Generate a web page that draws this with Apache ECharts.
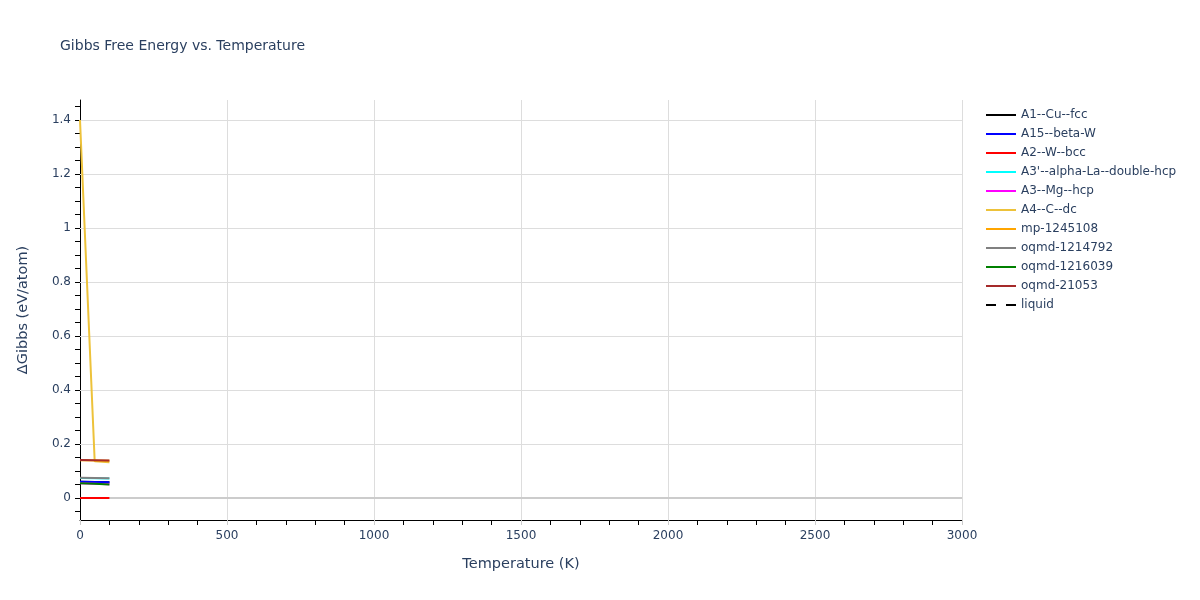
<!DOCTYPE html>
<html>
<head>
<meta charset="utf-8">
<script src="https://cdn.jsdelivr.net/npm/echarts@6/dist/echarts.min.js"></script>
<style>html,body{margin:0;padding:0;background:#fff}#c{width:1200px;height:600px}</style>
</head>
<body>
<div id="c"></div>
<script>
const temps = [0, 50, 100];
const seriesNames = ['A1--Cu--fcc','A15--beta-W','A2--W--bcc',"A3'--alpha-La--double-hcp",'A3--Mg--hcp','A4--C--dc','mp-1245108','oqmd-1214792','oqmd-1216039','oqmd-21053','liquid'];
const seriesColors = ['#000000','#0000FF','#FF0000','#00FFFF','#FF00FF','#EDC23A','#FFA500','#808080','#008000','#A52A2A','#000000'];
const A1_Cu_fcc = [0.060, 0.059, 0.058];
const A15_beta_W = [0.060, 0.059, 0.058];
const A2_W_bcc = [0.0, 0.0, 0.0];
const A3p_alpha_La = [0.074, 0.073, 0.072];
const A3_Mg_hcp = [0.055, 0.053, 0.051];
const A4_C_dc = [1.40, 0.136, 0.132];
const mp_1245108 = [0.140, 0.139, 0.138];
const oqmd_1214792 = [0.075, 0.074, 0.073];
const oqmd_1216039 = [0.055, 0.053, 0.050];
const oqmd_21053 = [0.141, 0.140, 0.139];
const liquid = [];
const yLabelTicks = [0, 0.2, 0.4, 0.6, 0.8, 1, 1.2, 1.4];
const yMinorTicks = [-0.05,0,0.05,0.1,0.15,0.2,0.25,0.3,0.35,0.4,0.45,0.5,0.55,0.6,0.65,0.7,0.75,0.8,0.85,0.9,0.95,1,1.05,1.1,1.15,1.2,1.25,1.3,1.35,1.4,1.45];
const yGridLines = [0.2, 0.4, 0.6, 0.8, 1, 1.2, 1.4];
const allValues = [A1_Cu_fcc, A15_beta_W, A2_W_bcc, A3p_alpha_La, A3_Mg_hcp, A4_C_dc, mp_1245108, oqmd_1214792, oqmd_1216039, oqmd_21053, liquid];

const font = '"DejaVu Sans", Verdana, sans-serif';
const txt = '#2a3f5f';
const solidIcon = 'path://M0,0h30v2h-30z';
const dashIcon = 'path://M0,0h10v2h-10z M20,0h10v2h-10z';

const series = seriesNames.map((n, i) => ({
  name: n,
  type: 'line',
  data: allValues[i].map((v, j) => [temps[j], v]),
  symbol: 'none',
  showSymbol: false,
  z: 3,
  lineStyle: { width: 2, color: seriesColors[i], type: n === 'liquid' ? [6, 5] : 'solid' },
  itemStyle: { color: seriesColors[i] }
}));

series.unshift({
  name: '_grid',
  type: 'line',
  data: [],
  z: 1,
  silent: true,
  markLine: {
    silent: true,
    z: 1,
    symbol: ['none', 'none'],
    label: { show: false },
    animation: false,
    data: yGridLines.map(v => ({ yAxis: v, lineStyle: { color: '#dddddd', width: 1, type: 'solid' } }))
      .concat([{ yAxis: 0, lineStyle: { color: '#cccccc', width: 2, type: 'solid' } }])
  }
});

const chart = echarts.init(document.getElementById('c'));
chart.setOption({
  animation: false,
  backgroundColor: '#ffffff',
  title: {
    text: 'Gibbs Free Energy vs. Temperature',
    left: 55, top: 34,
    textStyle: { fontFamily: font, fontSize: 14, fontWeight: 'normal', color: txt }
  },
  legend: {
    data: seriesNames.map(n => ({ name: n, icon: n === 'liquid' ? dashIcon : solidIcon })),
    orient: 'vertical',
    left: 981, top: 103,
    itemWidth: 30, itemHeight: 2, itemGap: 5,
    textStyle: { fontFamily: font, fontSize: 12, color: txt, lineHeight: 14 }
  },
  grid: { left: 80, right: 238, top: 100, bottom: 80, containLabel: false },
  xAxis: {
    type: 'value',
    min: 0, max: 3000, interval: 500,
    name: 'Temperature (K)',
    nameLocation: 'middle', nameGap: 37,
    nameTextStyle: { fontFamily: font, fontSize: 14.5, color: txt },
    axisLine: { show: true, onZero: false, lineStyle: { color: '#000', width: 1 } },
    axisTick: { show: true, length: 5, lineStyle: { color: '#cccccc' } },
    minorTick: { show: true, splitNumber: 5, length: 5, lineStyle: { color: '#000' } },
    axisLabel: { fontFamily: font, fontSize: 12, color: txt, margin: 10, formatter: v => String(v) },
    splitLine: { show: true, lineStyle: { color: '#dddddd', width: 1 } }
  },
  yAxis: {
    type: 'value',
    min: -0.0815, max: 1.474,
    name: 'ΔGibbs (eV/atom)',
    nameLocation: 'middle', nameGap: 49,
    nameTextStyle: { fontFamily: font, fontSize: 14.5, color: txt },
    axisLine: { show: true, onZero: false, lineStyle: { color: '#000', width: 1 } },
    axisTick: { show: true, length: 5, customValues: yMinorTicks, lineStyle: { color: '#000' } },
    axisLabel: { fontFamily: font, fontSize: 12, color: txt, margin: 9, customValues: yLabelTicks,
      formatter: v => String(Math.round(v * 10) / 10) },
    splitLine: { show: false }
  },
  series: series
});
</script>
</body>
</html>
